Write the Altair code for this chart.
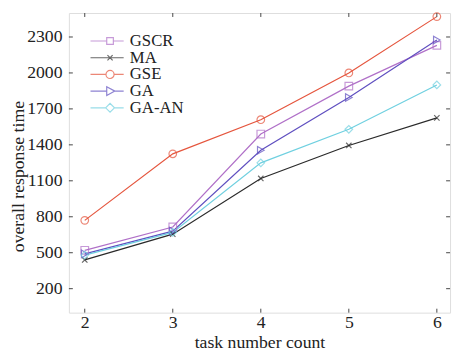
import altair as alt
import pandas as pd

tasks = [2, 3, 4, 5, 6]
series_names = ["GSCR", "MA", "GSE", "GA", "GA-AN"]
gscr = [520, 715, 1490, 1890, 2230]
ma = [440, 655, 1120, 1395, 1625]
gse = [770, 1325, 1610, 2000, 2470]
ga = [490, 680, 1355, 1795, 2275]
ga_an = [480, 670, 1250, 1530, 1900]
y_ticks = [200, 500, 800, 1100, 1400, 1700, 2000, 2300]

colors = ["#b070c8", "#2a2a2a", "#e5553d", "#5f4fc0", "#6fd0e0"]
X_PATH = "M-1,-1L1,1M-1,1L1,-1"
marker_shapes = ["square", X_PATH, "circle", "triangle-right", "diamond"]
# legend glyphs: a short line with the marker on it (unit = 7.5 px, origin 7.5 px from left)
legend_paths = [
    "M-1,0H1.2M2.1,0H3.5M1.2,-0.45H2.1V0.45H1.2Z",
    "M-1,0H3.5M1.3,-0.35L2,0.35M1.3,0.35L2,-0.35",
    "M-1,0H1.1M2.2,0H3.5M1.1,0A0.55,0.55,0,1,1,2.2,0A0.55,0.55,0,1,1,1.1,0",
    "M-1,0H1.2M2.3,0H3.5M1.2,-0.6L2.3,0L1.2,0.6Z",
    "M-1,0H1.05M2.25,0H3.5M1.05,0L1.65,-0.6L2.25,0L1.65,0.6Z",
]

rows = []
for name, vals in zip(series_names, [gscr, ma, gse, ga, ga_an]):
    for t, v in zip(tasks, vals):
        rows.append({"task": t, "series": name, "value": v})
df = pd.DataFrame(rows)

serif = "Liberation Serif"
W, H = 388, 305
xs = alt.Scale(domain=[1.82, 6.15], nice=False, zero=False)
ys = alt.Scale(domain=[0, 2500], nice=False)
cs = alt.Scale(domain=series_names, range=colors)

x_axis = alt.Axis(values=tasks, title="task number count", ticks=False, domain=False,
                  grid=False, format="d", labelFont=serif, labelFontSize=18, labelPadding=1,
                  labelColor="#222", titleFont=serif, titleFontSize=18,
                  titleFontWeight="normal", titleColor="#222", titlePadding=2)
y_axis = alt.Axis(values=y_ticks, title="overall response time", ticks=False, domain=False,
                  grid=False, format="d", labelFont=serif, labelFontSize=18, labelPadding=7,
                  labelColor="#222", titleFont=serif, titleFontSize=18,
                  titleFontWeight="normal", titleColor="#222", titleAngle=270,
                  titleX=-51, titleY=166, titleBaseline="middle", titleAlign="center")

leg = alt.Legend(title=None, orient="none", legendX=21, legendY=20, symbolSize=225,
                 labelFont=serif, labelFontSize=17, labelOffset=24, rowPadding=-7,
                 padding=0, symbolStrokeWidth=1.2, labelColor="#222")

X = alt.X("task:Q", scale=xs, axis=x_axis)
Y = alt.Y("value:Q", scale=ys, axis=y_axis)
C = alt.Color("series:N", scale=cs, legend=leg)

lines = alt.Chart(df).mark_line(strokeWidth=1.2).encode(x=X, y=Y, color=C)

point_layers = []
for name, shp in zip(series_names, marker_shapes):
    sz = 30 if shp == X_PATH else 60
    point_layers.append(
        alt.Chart(df).transform_filter(alt.datum.series == name)
        .mark_point(shape=shp, filled=False, size=sz, strokeWidth=1.2)
        .encode(x=X, y=Y, color=C)
    )

legend_layer = alt.Chart(df).transform_filter("datum.value < 0").mark_point(
    filled=False, strokeWidth=1.2
).encode(
    x=X, y=Y, color=C,
    shape=alt.Shape("series:N", scale=alt.Scale(domain=series_names, range=legend_paths),
                    legend=leg),
)

ydf = pd.DataFrame({"value": y_ticks})
xdf = pd.DataFrame({"task": tasks})
tick_col = "#444"
lt = alt.Chart(ydf).mark_rule(color=tick_col).encode(y=Y, x=alt.value(0), x2=alt.value(4))
rt = alt.Chart(ydf).mark_rule(color=tick_col).encode(y=Y, x=alt.value(W - 4), x2=alt.value(W))
bt = alt.Chart(xdf).mark_rule(color=tick_col).encode(x=X, y=alt.value(H), y2=alt.value(H - 4))
tt = alt.Chart(xdf).mark_rule(color=tick_col).encode(x=X, y=alt.value(0), y2=alt.value(4))

chart = alt.layer(lines, *point_layers, legend_layer, lt, rt, bt, tt).properties(
    width=W, height=H, autosize="none",
    padding={"left": 62, "top": 2, "right": 3, "bottom": 40},
).configure_view(stroke="#444", strokeWidth=1.2).configure_axis(
    labelFont=serif, titleFont=serif
).configure_legend(labelFont=serif).configure(background="white")

chart.save("out.html", embed_options={"renderer": "svg", "actions": False})
